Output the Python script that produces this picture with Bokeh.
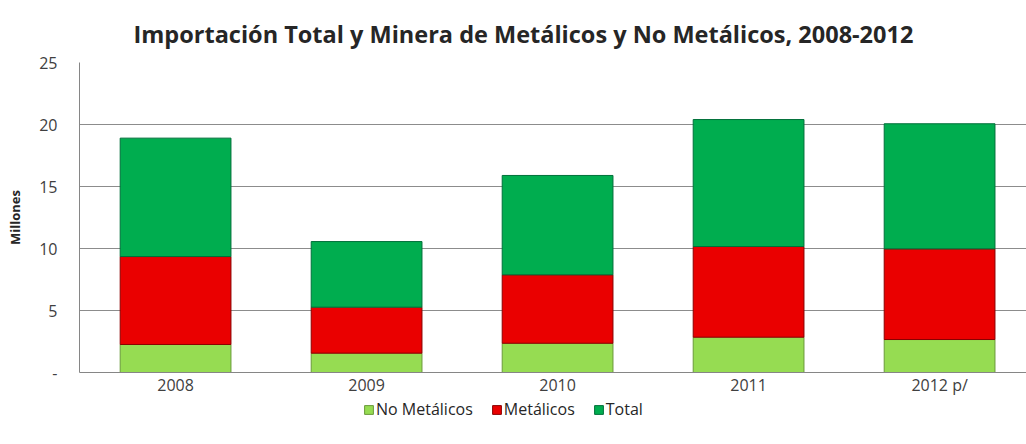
from bokeh.plotting import figure
from bokeh.layouts import column
from bokeh.models import ColumnDataSource, FixedTicker, Legend, LegendItem, Range1d
from bokeh.embed import file_html
from bokeh.resources import INLINE

years = ["2008", "2009", "2010", "2011", "2012 p/"]
no_metalicos = [2.26, 1.56, 2.36, 2.85, 2.66]
metalicos = [7.09, 3.71, 5.52, 7.31, 7.31]
total = [9.55, 5.29, 8.01, 10.24, 10.09]
series = ["No Metálicos", "Metálicos", "Total"]

FONT = "Open Sans"
src = ColumnDataSource(dict(x=list(range(len(years))), nomet=no_metalicos, met=metalicos, total=total))

p = figure(frame_width=947, frame_height=310, output_backend="svg", toolbar_location=None,
           x_range=Range1d(-0.503, 4.455), y_range=Range1d(0, 25),
           min_border_left=79, min_border_right=0, min_border_top=62, min_border_bottom=0)

p.title.text = "Importación Total y Minera de Metálicos y No Metálicos, 2008-2012"
p.title.align = "left"
p.title.text_font = FONT
p.title.text_font_size = "23.5px"
p.title.text_font_style = "bold"
p.title.text_color = "#262626"
p.title.offset = 54
p.title.standoff = 26

fills = ["#96dc52", "#ea0000", "#00ad4f"]
lines = ["#6a9a3a", "#8a0000", "#00703a"]
rs = p.vbar_stack(["nomet", "met", "total"], x="x", width=0.58, source=src,
                  color=fills, line_color=lines, line_width=1)

p.xaxis.ticker = FixedTicker(ticks=list(range(len(years))))
p.xaxis.major_label_overrides = {i: y for i, y in enumerate(years)}
p.yaxis.ticker = FixedTicker(ticks=[0, 5, 10, 15, 20, 25])
p.yaxis.major_label_overrides = {0: "-"}
for ax in (p.xaxis[0], p.yaxis[0]):
    ax.axis_line_color = "#868686"
    ax.axis_line_width = 1
    ax.major_tick_line_color = None
    ax.minor_tick_line_color = None
    ax.major_label_text_font = FONT
    ax.major_label_text_font_size = "16px"
    ax.major_label_text_color = "#404040"
p.yaxis.major_label_standoff = 16
p.xaxis.major_label_standoff = -5
p.yaxis.axis_label = "Millones"
p.yaxis.axis_label_text_font = FONT
p.yaxis.axis_label_text_font_size = "13px"
p.yaxis.axis_label_text_font_style = "bold"
p.yaxis.axis_label_text_color = "#262626"
p.yaxis.axis_label_standoff = 12

p.xgrid.grid_line_color = None
p.ygrid.grid_line_color = "#8c8c8c"
p.ygrid.grid_line_width = 1
p.outline_line_color = None

# legend strip below the chart
lf = figure(width=1026, height=34, output_backend="svg", toolbar_location=None,
            x_range=Range1d(100, 101), y_range=Range1d(100, 101),
            x_axis_location=None, y_axis_location=None,
            min_border_left=0, min_border_right=0, min_border_top=0, min_border_bottom=0)
lf.grid.grid_line_color = None
lf.outline_line_color = None
lrs = lf.vbar_stack(["nomet", "met", "total"], x="x", width=0.58, source=src,
                    color=fills, line_color=lines, line_width=1)

legend = Legend(items=[LegendItem(label=s, renderers=[r]) for s, r in zip(series, lrs)],
                orientation="horizontal", location=(284, 12),
                glyph_width=11, glyph_height=11, label_standoff=2, spacing=18,
                label_text_font=FONT, label_text_font_size="16px", label_text_color="#262626",
                border_line_color=None, background_fill_alpha=0, padding=2, margin=0)
lf.add_layout(legend, "center")

layout = column(p, lf, spacing=0)
open("out.html", "w").write(file_html(layout, INLINE))
